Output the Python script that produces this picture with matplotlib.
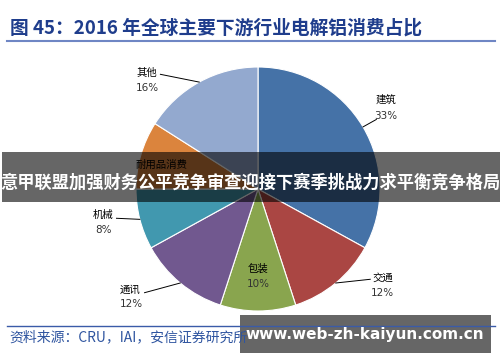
import numpy as np
import matplotlib
matplotlib.use("Agg")
import matplotlib.pyplot as plt
from matplotlib.patches import Rectangle
from matplotlib.lines import Line2D

plt.rcParams['font.family'] = ['Noto Sans CJK SC', 'DejaVu Sans']

# ---- data ----
categories = ['建筑', '交通', '包装', '通讯', '机械', '耐用品消费', '其他']
values = [33, 12, 10, 12, 8, 9, 16]
pct_labels = ['33%', '12%', '10%', '12%', '8%', '', '16%']  # 9% hidden under banner in reference
colors = ['#4572A7', '#AA4643', '#89A54E', '#71588F', '#4198AF', '#DB843D', '#93A9CF']

title = '图 45：2016 年全球主要下游行业电解铝消费占比'
source = '资料来源：CRU，IAI，安信证券研究所'
banner = '意甲联盟加强财务公平竞争审查迎接下赛季挑战力求平衡竞争格局'
watermark = 'www.web-zh-kaiyun.com.cn'

W, H = 500, 362
fig = plt.figure(figsize=(W / 100, H / 100), dpi=100)

def fx(px):
    return px / W

def fy(py):
    return 1 - py / H

# pie axes (center ~ (258,189) px, radius ~122 px)
cx, cy, R = 258, 189, 122
ax = fig.add_axes([fx(cx - R), fy(cy + R), 2 * R / W, 2 * R / H])
wedges, _ = ax.pie(values, colors=colors, startangle=90, counterclock=False,
                   wedgeprops=dict(edgecolor='white', linewidth=0.8))
ax.set_xlim(-1, 1)
ax.set_ylim(-1, 1)
ax.set_aspect('equal')
ax.axis('off')

# label layout: (name xy, pct xy, leader end or None) in data coords
layout = [
    ((1.05, 0.73), (1.05, 0.60), (0.97, 0.57)),
    ((1.02, -0.73), (1.02, -0.85), (0.92, -0.74)),
    ((0.0, -0.655), (0.0, -0.78), None),
    ((-1.05, -0.83), (-1.04, -0.94), (-0.93, -0.85)),
    ((-1.27, -0.21), (-1.27, -0.34), (-1.16, -0.24)),
    ((-0.79, 0.20), (-0.79, 0.07), None),
    ((-0.91, 0.95), (-0.91, 0.83), (-0.80, 0.94)),
]
total = sum(values)
cum = 0
for i, v in enumerate(values):
    mid = 90 - (cum + v / 2) / total * 360
    cum += v
    (nx, ny), (px_, py_), lead = layout[i]
    ax.text(nx, ny, categories[i], ha='center', va='center', fontsize=7.5,
            color='black', clip_on=False)
    if pct_labels[i]:
        ax.text(px_, py_, pct_labels[i], ha='center', va='center', fontsize=7.5,
                color='#333333', family='DejaVu Sans', clip_on=False)
    if lead is not None:
        ex, ey = np.cos(np.radians(mid)), np.sin(np.radians(mid))
        ax.add_line(Line2D([ex, lead[0]], [ey, lead[1]], color='black', lw=0.7,
                           clip_on=False))

# title and rules
fig.text(fx(10), fy(28), title, ha='left', va='center', fontsize=13.5,
         fontweight='bold', color='#1F3D8C')
fig.add_artist(Line2D([fx(7), fx(495)], [fy(41), fy(41)], color='#6F86C4', lw=1.5))
fig.add_artist(Line2D([fx(7), fx(495)], [fy(326), fy(326)], color='#3A5BA8', lw=1.0))
fig.text(fx(9), fy(337), source, ha='left', va='center', fontsize=10,
         color='#2F55A0', style='italic')

# overlay banner
fig.add_artist(Rectangle((fx(2), fy(202)), 1 - fx(2), 50 / H, transform=fig.transFigure,
                         facecolor='black', alpha=0.6, edgecolor='none'))
fig.text(0.5, fy(183), banner, ha='center', va='center', fontsize=12.4,
         fontweight='bold', color='white')

# watermark box
fig.add_artist(Rectangle((fx(240), fy(353)), 251 / W, 38 / H, transform=fig.transFigure,
                         facecolor='black', alpha=0.6, edgecolor='none'))
fig.text(fx(365), fy(335), watermark, ha='center', va='center', fontsize=11,
         fontweight='bold', color='white', family='DejaVu Sans')

fig.savefig('out.png', dpi=100)
